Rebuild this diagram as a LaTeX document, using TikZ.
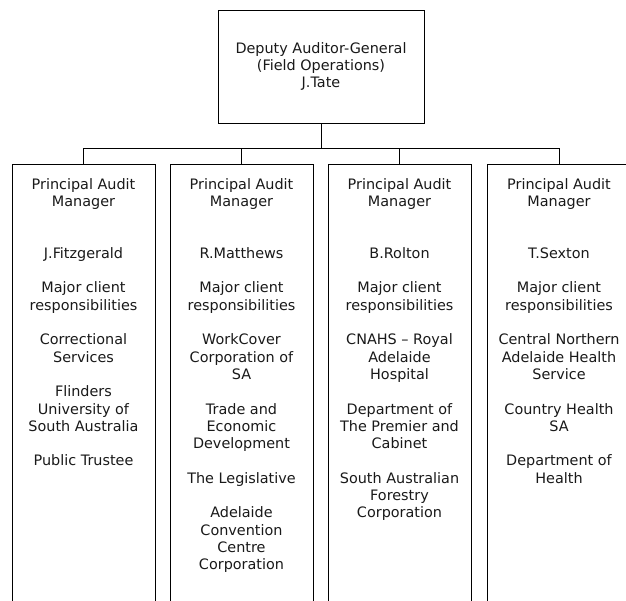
\documentclass[tikz,border=0pt]{standalone}
\usepackage{fontspec}
\setmainfont{DejaVu Sans}
\begin{document}
\begin{tikzpicture}[x=1pt,y=-1pt,
  box/.style={draw=black, line width=0.8pt, minimum width=143pt, minimum height=470pt, anchor=north, inner sep=0pt},
  txt/.style={font=\fontsize{14.4pt}{17.3pt}\selectfont, align=center, anchor=north, inner sep=0pt, text=black!90},
  topbox/.style={draw=black, line width=0.8pt, minimum width=206pt, minimum height=113pt, font=\fontsize{14.4pt}{17.3pt}\selectfont, align=center, inner sep=0pt, text=black!90},
  link/.style={draw=black, line width=0.8pt}]
\clip (0,0) rectangle (626,601);
\node[topbox] (top) at (321,66.5) {Deputy Auditor-General\\(Field Operations)\\J.Tate};
\node[box] (b1) at (83.5,164) {};
\node[box] (b2) at (241.5,164) {};
\node[box] (b3) at (399.5,164) {};
\node[box] (b4) at (559,164) {};
\coordinate (bus) at (321,148);
\draw[link] (top.south) -- (bus);
\draw[link] (bus) -| (b1.north);
\draw[link] (bus) -| (b2.north);
\draw[link] (bus) -| (b3.north);
\draw[link] (bus) -| (b4.north);
\node[txt] (t1) at (83.5,178) {Principal Audit\\Manager\\[34.6pt]J.Fitzgerald\\[17.3pt]Major client\\responsibilities\\[17.3pt]Correctional\\Services\\[17.3pt]Flinders\\University of\\South Australia\\[17.3pt]Public Trustee};
\node[txt] (t2) at (241.5,178) {Principal Audit\\Manager\\[34.6pt]R.Matthews\\[17.3pt]Major client\\responsibilities\\[17.3pt]WorkCover\\Corporation of\\SA\\[17.3pt]Trade and\\Economic\\Development\\[17.3pt]The Legislative\\[17.3pt]Adelaide\\Convention\\Centre\\Corporation};
\node[txt] (t3) at (399.5,178) {Principal Audit\\Manager\\[34.6pt]B.Rolton\\[17.3pt]Major client\\responsibilities\\[17.3pt]CNAHS – Royal\\Adelaide\\Hospital\\[17.3pt]Department of\\The Premier and\\Cabinet\\[17.3pt]South Australian\\Forestry\\Corporation};
\node[txt] (t4) at (559,178) {Principal Audit\\Manager\\[34.6pt]T.Sexton\\[17.3pt]Major client\\responsibilities\\[17.3pt]Central Northern\\Adelaide Health\\Service\\[17.3pt]Country Health\\SA\\[17.3pt]Department of\\Health};
\end{tikzpicture}
\end{document}
